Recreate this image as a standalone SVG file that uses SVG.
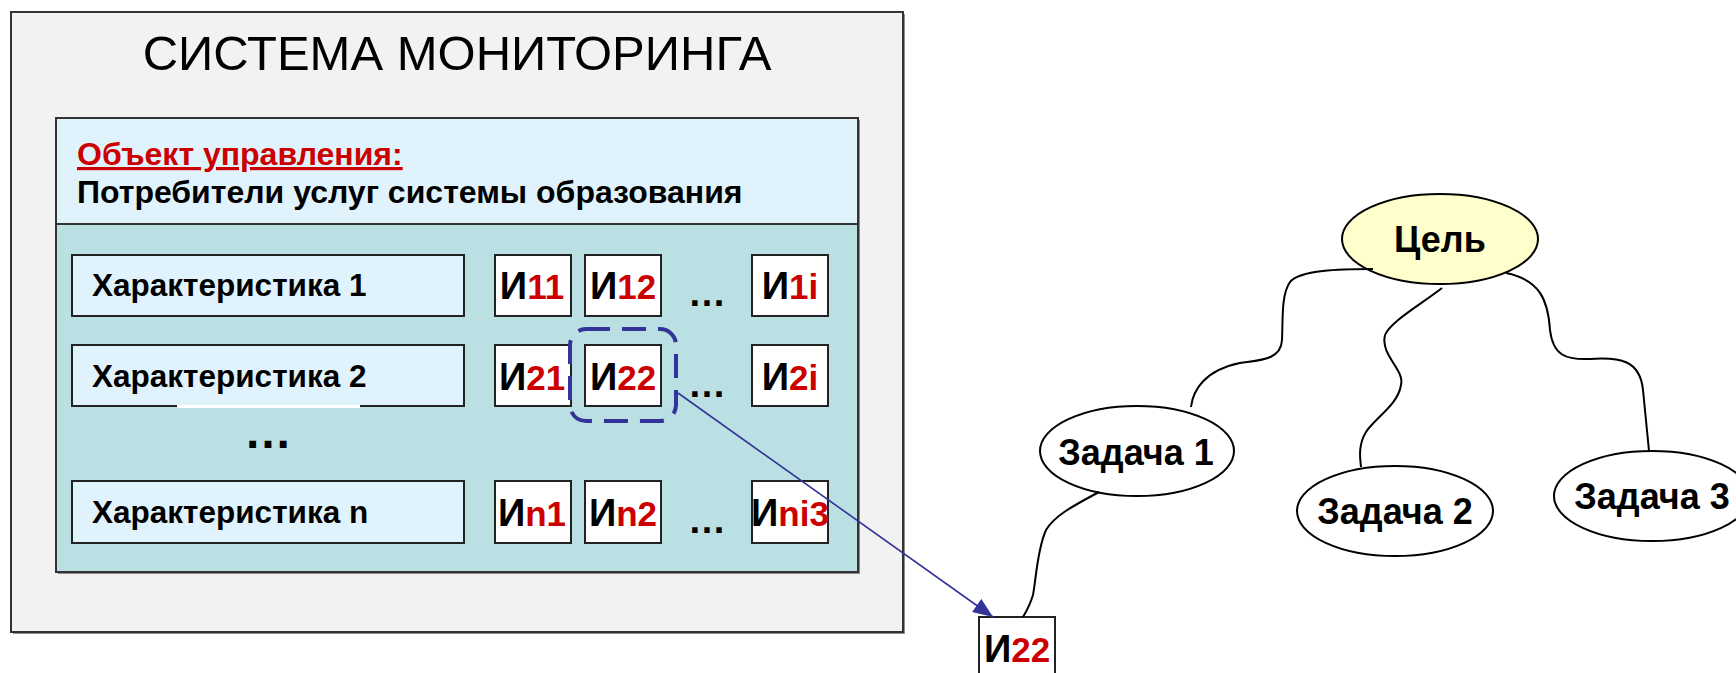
<svg xmlns="http://www.w3.org/2000/svg" width="1736" height="673" viewBox="0 0 1736 673">
<defs>
<style>
text{font-family:"Liberation Sans",Arial,sans-serif;}
.b{font-weight:bold;}
.red{fill:#cc0000;}
.sub{fill:#cc0000;font-size:35px;}
.box{stroke:#333333;stroke-width:2;}
.shadow{fill:#8c8c8c;}
.cell{fill:#ffffff;stroke:#222222;stroke-width:2;}
.ch{fill:#e0f3fd;stroke:#222222;stroke-width:2;}
.ct{font-size:31.5px;font-weight:bold;fill:#000;}
.it{font-size:38px;font-weight:bold;fill:#000;text-anchor:middle;}
.dots{font-size:38px;font-weight:bold;fill:#000;}
.tree{fill:none;stroke:#000;stroke-width:2;}
.ell{stroke:#000;stroke-width:2;}
.et{font-size:36px;font-weight:bold;fill:#000;text-anchor:middle;}
</style>
<marker id="ah" viewBox="0 0 20 16" refX="20" refY="8" markerWidth="20" markerHeight="16" orient="auto" markerUnits="userSpaceOnUse">
<path d="M0,0 L20,8 L0,16 z" fill="#333399"/>
</marker>
</defs>

<g id="monitoring-system">
<rect x="13" y="14" width="892" height="620" class="shadow"/>
<rect x="11" y="12" width="892" height="620" fill="#f2f2f2" class="box"/>
<text x="457" y="70" font-size="49" text-anchor="middle" fill="#000">СИСТЕМА МОНИТОРИНГА</text>
</g>

<g id="control-object">
<rect x="58" y="120" width="802" height="454" class="shadow"/>
<rect x="56" y="118" width="802" height="106" fill="#e0f3fd" class="box"/>
<rect x="56" y="224" width="802" height="348" fill="#bbe0e3" class="box"/>
<text x="77" y="165" font-size="32" class="b red" text-decoration="underline">Объект управления:</text>
<text x="77" y="203" font-size="32" class="b" fill="#000">Потребители услуг системы образования</text>
</g>

<g id="row1">
<rect x="72" y="255" width="392" height="61" class="ch"/>
<text x="92" y="296" class="ct">Характеристика 1</text>
<rect x="495" y="255" width="76" height="61" class="cell"/>
<text x="532" y="299" class="it">И<tspan class="sub">11</tspan></text>
<rect x="585" y="255" width="76" height="61" class="cell"/>
<text x="623" y="299" class="it">И<tspan class="sub">12</tspan></text>
<text x="688" y="306" class="dots">…</text>
<rect x="752" y="255" width="76" height="61" class="cell"/>
<text x="790" y="299" class="it">И<tspan class="sub">1i</tspan></text>
</g>

<g id="row2">
<rect x="72" y="345" width="392" height="61" class="ch"/>
<rect x="177" y="405" width="183" height="3" fill="#ffffff"/>
<text x="92" y="387" class="ct">Характеристика 2</text>
<rect x="495" y="345" width="76" height="61" class="cell"/>
<text x="532" y="390" class="it">И<tspan class="sub">21</tspan></text>
<rect x="585" y="345" width="76" height="61" class="cell"/>
<text x="623" y="390" class="it">И<tspan class="sub">22</tspan></text>
<text x="688" y="397" class="dots">…</text>
<rect x="752" y="345" width="76" height="61" class="cell"/>
<text x="790" y="390" class="it">И<tspan class="sub">2i</tspan></text>
</g>

<g id="row-gap">
<text x="244" y="448" font-size="48" class="b" fill="#000">…</text>
</g>

<g id="rown">
<rect x="72" y="481" width="392" height="62" class="ch"/>
<text x="92" y="523" class="ct">Характеристика n</text>
<rect x="495" y="481" width="76" height="62" class="cell"/>
<text x="532" y="526" class="it">И<tspan class="sub">n1</tspan></text>
<rect x="585" y="481" width="76" height="62" class="cell"/>
<text x="623" y="526" class="it">И<tspan class="sub">n2</tspan></text>
<text x="688" y="533" class="dots">…</text>
<rect x="752" y="481" width="76" height="62" class="cell"/>
<text x="790" y="526" class="it">И<tspan class="sub">ni3</tspan></text>
</g>

<g id="selection">
<rect x="570" y="329" width="106" height="92" rx="16" ry="16" fill="none" stroke="#333399" stroke-width="4" stroke-dasharray="24 12"/>
</g>

<g id="i22-detached">
<rect x="979" y="617" width="76" height="62" class="cell"/>
<text x="1017" y="662" class="it">И<tspan class="sub">22</tspan></text>
</g>

<g id="goal">
<ellipse cx="1440" cy="239" rx="98" ry="45" fill="#ffffcc" class="ell"/>
<text x="1440" y="252" class="et">Цель</text>
</g>
<g id="task1">
<ellipse cx="1137" cy="451" rx="97" ry="45" fill="#ffffff" class="ell"/>
<text x="1136" y="465" class="et">Задача 1</text>
</g>
<g id="task2">
<ellipse cx="1395" cy="511" rx="98" ry="45" fill="#ffffff" class="ell"/>
<text x="1395" y="524" class="et">Задача 2</text>
</g>
<g id="task3">
<ellipse cx="1652" cy="496" rx="98" ry="45" fill="#ffffff" class="ell"/>
<text x="1652" y="509" class="et">Задача 3</text>
</g>

<g id="connectors">
<line x1="678" y1="393" x2="993" y2="617" stroke="#333399" stroke-width="1.6" marker-end="url(#ah)"/>
<path class="tree" d="M1373,269 C1340,269 1300,270 1290,282 C1281,295 1283,320 1282,340 C1281,360 1260,360 1240,363 C1205,370 1193,390 1191,407"/>
<path class="tree" d="M1442,288 C1420,305 1390,322 1385,335 C1380,355 1405,370 1401,385 C1398,405 1375,418 1366,432 C1358,445 1360,458 1361,467"/>
<path class="tree" d="M1506,273 C1540,280 1548,300 1550,330 C1553,355 1565,360 1590,359 C1620,357 1640,360 1643,390 C1646,420 1648,440 1649,451"/>
<path class="tree" d="M1099,492 C1075,505 1055,515 1046,530 C1037,550 1036,580 1033,595 C1030,605 1026,612 1023,617"/>
</g>
</svg>
